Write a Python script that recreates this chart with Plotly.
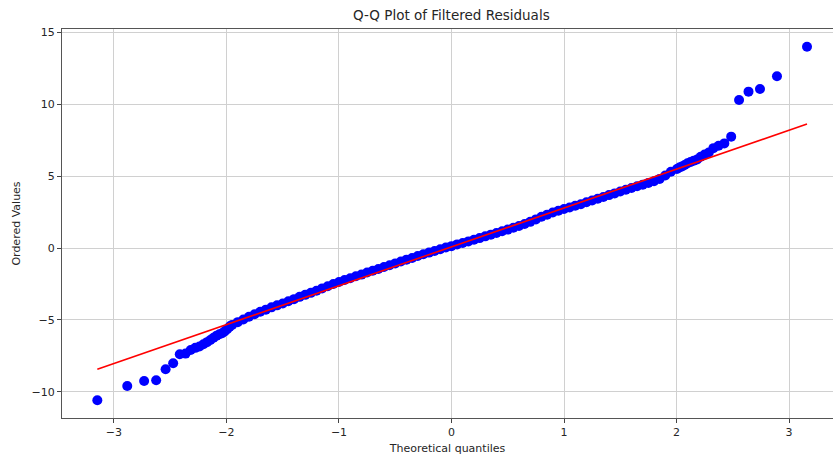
import plotly.graph_objects as go

# Theoretical quantiles (x) and ordered residual values (y)
tail_low_x = [-3.148, -2.882, -2.732, -2.625, -2.541, -2.474, -2.415, -2.364, -2.318, -2.277,
              -2.240, -2.205, -2.173, -2.143, -2.115, -2.088, -2.063, -2.039, -2.016, -1.994, -1.972]
tail_low_y = [-10.6, -9.6, -9.25, -9.2, -8.44, -8.02, -7.39, -7.35, -7.1, -6.95,
              -6.85, -6.7, -6.55, -6.4, -6.25, -6.1, -6.0, -5.93, -5.8, -5.65, -5.47]

mid_x = [-1.95, -1.90, -1.85, -1.80, -1.75, -1.70, -1.65, -1.60, -1.55, -1.50,
         -1.45, -1.40, -1.35, -1.30, -1.25, -1.20, -1.15, -1.10, -1.05, -1.00,
         -0.95, -0.90, -0.85, -0.80, -0.75, -0.70, -0.65, -0.60, -0.55, -0.50,
         -0.45, -0.40, -0.35, -0.30, -0.25, -0.20, -0.15, -0.10, -0.05, 0.00,
         0.05, 0.10, 0.15, 0.20, 0.25, 0.30, 0.35, 0.40, 0.45, 0.50,
         0.55, 0.60, 0.65, 0.70, 0.75, 0.80, 0.85, 0.90, 0.95, 1.00,
         1.05, 1.10, 1.15, 1.20, 1.25, 1.30, 1.35, 1.40, 1.45, 1.50,
         1.55, 1.60, 1.65, 1.70, 1.75, 1.80, 1.85, 1.90, 1.95]
mid_y = [-5.35, -5.16, -4.98, -4.79, -4.61, -4.44, -4.29, -4.13, -3.99, -3.86,
         -3.70, -3.56, -3.40, -3.26, -3.12, -2.97, -2.81, -2.66, -2.51, -2.37,
         -2.23, -2.11, -1.97, -1.85, -1.71, -1.58, -1.46, -1.32, -1.20, -1.07,
         -0.94, -0.81, -0.69, -0.56, -0.44, -0.32, -0.21, -0.09, 0.03, 0.13,
         0.25, 0.35, 0.46, 0.57, 0.69, 0.81, 0.93, 1.04, 1.16, 1.28,
         1.41, 1.53, 1.67, 1.82, 1.99, 2.17, 2.32, 2.47, 2.59, 2.71,
         2.82, 2.94, 3.05, 3.18, 3.30, 3.43, 3.55, 3.68, 3.80, 3.93,
         4.05, 4.18, 4.30, 4.41, 4.53, 4.65, 4.81, 5.04, 5.31]

tail_high_x = [2.004, 2.026, 2.049, 2.073, 2.098, 2.125, 2.153, 2.183, 2.215, 2.250,
               2.287, 2.328, 2.374, 2.425, 2.486, 2.556, 2.640, 2.742, 2.893, 3.160]
tail_high_y = [5.50, 5.60, 5.68, 5.78, 5.90, 5.98, 6.08, 6.16, 6.35, 6.50,
               6.65, 6.95, 7.12, 7.28, 7.75, 10.3, 10.88, 11.07, 11.95, 14.0]

# Fitted reference line end points
fit_x = [-3.148, 3.160]
fit_y = [-8.44, 8.63]

x_ticks = [-3, -2, -1, 0, 1, 2, 3]
y_ticks = [-10, -5, 0, 5, 10, 15]

osm = tail_low_x + mid_x + tail_high_x
osr = tail_low_y + mid_y + tail_high_y

fig = go.Figure()
fig.add_trace(go.Scatter(x=osm, y=osr, mode="markers",
                         marker=dict(color="#0000ff", size=10, line=dict(width=0)),
                         showlegend=False, hoverinfo="x+y"))
fig.add_trace(go.Scatter(x=fit_x, y=fit_y, mode="lines",
                         line=dict(color="#ff0000", width=1.6),
                         showlegend=False))

H = 456
font = dict(family="DejaVu Sans", size=11, color="#262626")
fig.update_layout(
    width=833, height=H,
    margin=dict(l=62, r=0, t=29, b=38),
    paper_bgcolor="white", plot_bgcolor="white",
    font=font,
    title=dict(text="Q-Q Plot of Filtered Residuals", x=0.505, xref="paper",
               y=1 - 15 / H, yref="container", xanchor="center", yanchor="middle",
               font=dict(family="DejaVu Sans", size=13.5, color="#262626")),
    xaxis=dict(range=[-3.462, 3.391], tickvals=x_ticks, ticks="outside", ticklen=4,
               tickcolor="#444", tickwidth=1,
               showline=True, linecolor="#555", linewidth=1.2, mirror=True,
               showgrid=True, gridcolor="#d0d0d0", gridwidth=1, zeroline=False,
               title=dict(text="Theoretical quantiles", standoff=6,
                          font=dict(family="DejaVu Sans", size=11, color="#262626"))),
    yaxis=dict(range=[-11.83, 15.24], tickvals=y_ticks, ticks="outside", ticklen=4,
               tickcolor="#444", tickwidth=1,
               showline=True, linecolor="#555", linewidth=1.2, mirror=False,
               showgrid=True, gridcolor="#d0d0d0", gridwidth=1, zeroline=False,
               title=dict(text="Ordered Values", standoff=8,
                          font=dict(family="DejaVu Sans", size=11, color="#262626"))),
)

fig.write_html("out.html", config={"displayModeBar": False},
               post_script="document.body.style.margin='0';document.body.style.overflow='hidden';")
